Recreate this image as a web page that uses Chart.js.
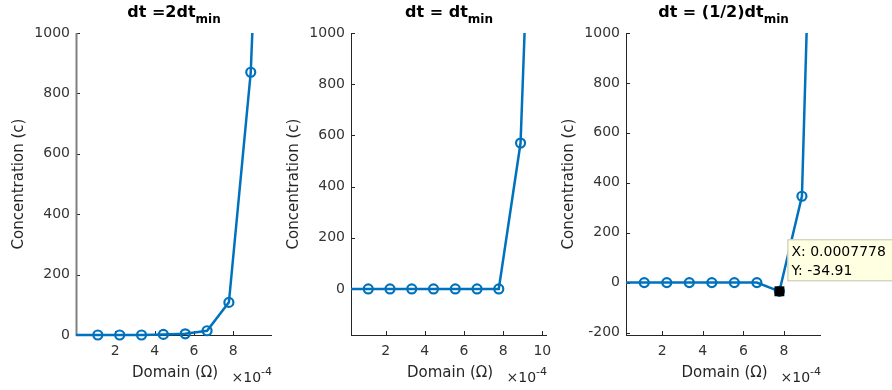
<!DOCTYPE html>
<html lang="en">
<head>
<meta charset="UTF-8">
<title>Concentration vs domain</title>
<script src="https://cdn.jsdelivr.net/npm/chart.js"></script>
<style>
  body { margin: 0; background: #fff; }
  #wrap { position: relative; width: 892px; height: 390px; }
  #wrap canvas { position: absolute; left: 0; top: 0; }
</style>
</head>
<body>
<div id="wrap">
  <canvas id="c1" width="892" height="390"></canvas>
  <canvas id="c2" width="892" height="390"></canvas>
  <canvas id="c3" width="892" height="390"></canvas>
</div>
<script>
// grid points of the domain
const domain = [0, 0.0001111, 0.0002222, 0.0003333, 0.0004444, 0.0005556, 0.0006667, 0.0007778, 0.0008889, 0.001];
// concentration for each time step
const conc2dt  = [0, 0, 0, 0, 2, 4, 14, 108, 870, 2700];
const concDt   = [0, 0, 0, 0, 0, 0, 0, 0, 570, 2900];
const concHalf = [0, 0, 0, 0, 0, 0, 0, -34.91, 346, 3500];
// data tip on the third plot
const tipX = [0.0007778];
const tipY = [-34.91];
// tick labels
const xTicksA = [0.0002, 0.0004, 0.0006, 0.0008];
const xTicksB = [0.0002, 0.0004, 0.0006, 0.0008, 0.001];
const yTicksA = [0, 200, 400, 600, 800, 1000];
const yTicksB = [-200, 0, 200, 400, 600, 800, 1000];

const BLUE = '#0072BD';
const FONT = 'DejaVu Sans';

const panels = [
  { id: 'c1', title: 'dt =2dt', series: conc2dt, left: 76, right: 272,
    xMin: 0, xMax: 0.000997, yMin: 0, yMax: 1000, xTicks: xTicksA, yTicks: yTicksA, axisColor: '#808080' },
  { id: 'c2', title: 'dt = dt', series: concDt, left: 351, right: 547,
    xMin: 0.000023, xMax: 0.001024, yMin: -180, yMax: 1000, xTicks: xTicksB, yTicks: yTicksA, axisColor: '#262626' },
  { id: 'c3', title: 'dt = (1/2)dt', series: concHalf, left: 626, right: 821,
    xMin: 0.000021, xMax: 0.000983, yMin: -210, yMax: 1000, xTicks: xTicksA, yTicks: yTicksB, axisColor: '#262626', tip: true }
];

function matlabLook(p) {
  return {
    id: 'matlabLook',
    beforeDatasetsDraw(chart) {
      const { ctx, chartArea: a, scales: { x, y } } = chart;
      ctx.save();
      ctx.strokeStyle = '#262626';
      ctx.lineWidth = 1;
      ctx.beginPath();
      y.ticks.forEach(t => {
        const py = Math.round(y.getPixelForValue(t.value)) + 0.5;
        ctx.moveTo(a.left, py); ctx.lineTo(a.left + 4, py);
      });
      x.ticks.forEach(t => {
        const px = Math.round(x.getPixelForValue(t.value)) + 0.5;
        ctx.moveTo(px, a.bottom); ctx.lineTo(px, a.bottom - 4);
      });
      ctx.moveTo(a.left, a.bottom + 0.5); ctx.lineTo(a.right, a.bottom + 0.5);
      ctx.stroke();
      // y axis line
      ctx.strokeStyle = p.axisColor;
      ctx.lineWidth = p.axisColor === '#262626' ? 1 : 2;
      ctx.beginPath();
      ctx.moveTo(a.left + 0.5, a.top); ctx.lineTo(a.left + 0.5, a.bottom + 1);
      ctx.stroke();
      ctx.restore();
    },
    afterDraw(chart) {
      const { ctx, chartArea: a, scales: { x, y } } = chart;
      const cx = (a.left + a.right) / 2;
      ctx.save();
      ctx.fillStyle = '#000';
      // title with subscript
      ctx.font = 'bold 16px ' + FONT;
      const w1 = ctx.measureText(p.title).width;
      ctx.font = 'bold 12px ' + FONT;
      const w2 = ctx.measureText('min').width;
      const tx = cx - (w1 + w2) / 2;
      ctx.textAlign = 'left';
      ctx.textBaseline = 'alphabetic';
      ctx.font = 'bold 16px ' + FONT;
      ctx.fillText(p.title, tx, 17);
      ctx.font = 'bold 12px ' + FONT;
      ctx.fillText('min', tx + w1, 23);

      // axis labels
      ctx.fillStyle = '#262626';
      ctx.font = '15px ' + FONT;
      ctx.textAlign = 'center';
      ctx.fillText('Domain (\u03A9)', cx + 1, 377);
      ctx.save();
      ctx.translate(a.left - 57, (a.top + a.bottom) / 2);
      ctx.rotate(-Math.PI / 2);
      ctx.textBaseline = 'middle';
      ctx.fillText('Concentration (c)', 0, 0);
      ctx.restore();

      // x10^-4 exponent
      ctx.textAlign = 'right';
      ctx.font = '11px ' + FONT;
      const we = ctx.measureText('-4').width;
      ctx.fillText('-4', a.right, 375);
      ctx.font = '14px ' + FONT;
      ctx.fillText('\u00D710', a.right - we, 382);

      // data tip box
      if (p.tip) {
        const px = x.getPixelForValue(tipX[0]);
        const py = y.getPixelForValue(tipY[0]);
        ctx.fillStyle = '#ffffe1';
        ctx.strokeStyle = '#c4c4b0';
        ctx.lineWidth = 1;
        ctx.fillRect(px + 8, py - 52, 110, 41);
        ctx.strokeRect(px + 8.5, py - 51.5, 110, 41);
        ctx.fillStyle = '#000';
        ctx.font = '14px ' + FONT;
        ctx.textAlign = 'left';
        ctx.fillText('X: ' + tipX[0].toFixed(7), px + 12, py - 35.5);
        ctx.fillText('Y: ' + tipY[0].toFixed(2), px + 12, py - 16.5);
      }
      ctx.restore();
    }
  };
}

panels.forEach(p => {
  const datasets = [{
    data: domain.map((v, i) => ({ x: v, y: p.series[i] })),
    borderColor: BLUE,
    borderWidth: 2.5,
    pointStyle: 'circle',
    pointRadius: c => c.dataIndex === 0 ? 0 : 4.5,
    pointBorderWidth: 2.2,
    pointBorderColor: BLUE,
    pointBackgroundColor: 'rgba(0,0,0,0)',
    tension: 0,
    order: 1,
    clip: { left: 0, top: 0, right: 0, bottom: 8 }
  }];
  if (p.tip) {
    datasets.push({
      data: tipX.map((v, i) => ({ x: v, y: tipY[i] })),
      showLine: false,
      pointStyle: 'rect',
      pointRadius: 7,
      pointBorderWidth: 0,
      pointBackgroundColor: '#000',
      pointBorderColor: '#000',
      order: 0,
      clip: false
    });
  }

  new Chart(document.getElementById(p.id), {
    type: 'line',
    data: { datasets },
    options: {
      responsive: false,
      animation: false,
      events: [],
      layout: { padding: { left: p.left - 50, right: 892 - p.right, top: 33, bottom: 0 } },
      plugins: { legend: { display: false }, tooltip: { enabled: false } },
      scales: {
        x: {
          type: 'linear',
          min: p.xMin,
          max: p.xMax,
          grid: { display: false, drawTicks: false },
          border: { display: false },
          afterBuildTicks: s => { s.ticks = p.xTicks.map(v => ({ value: v })); },
          afterFit: s => { s.height = 55; },
          ticks: {
            padding: 8,
            maxRotation: 0,
            autoSkip: false,
            color: '#333',
            font: { family: FONT, size: 14 },
            callback: v => String(Math.round(v * 1e4))
          }
        },
        y: {
          type: 'linear',
          min: p.yMin,
          max: p.yMax,
          grid: { display: false, drawTicks: false },
          border: { display: false },
          afterBuildTicks: s => { s.ticks = p.yTicks.map(v => ({ value: v })); },
          afterFit: s => { s.width = 50; },
          ticks: {
            padding: 6,
            color: '#333',
            font: { family: FONT, size: 14 },
            callback: v => String(v)
          }
        }
      }
    },
    plugins: [matlabLook(p)]
  });
});
</script>
</body>
</html>
